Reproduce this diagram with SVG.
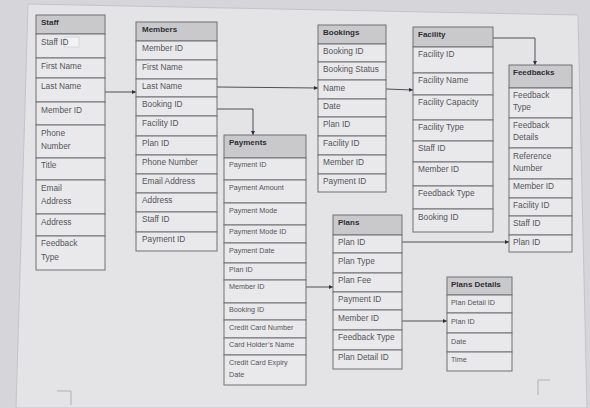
<svg xmlns="http://www.w3.org/2000/svg" width="590" height="408" viewBox="0 0 590 408">
<defs>
<style>
.bg{fill:#d6d6da}
.page{fill:#e4e4e7;stroke:#c4c4c8;stroke-width:1}
.hd{fill:#c9c9cc;stroke:#707075;stroke-width:1}
.rw{fill:#e9e9eb;stroke:#707075;stroke-width:1}
.ht{font-family:"Liberation Sans",Arial,sans-serif;font-size:8px;font-weight:bold;fill:#2e2e32}
.t{font-family:"Liberation Sans",Arial,sans-serif;font-size:8.3px;fill:#55555a}
.ts{font-family:"Liberation Sans",Arial,sans-serif;font-size:7.2px;fill:#55555a}
.cn{fill:none;stroke:#505055;stroke-width:1;marker-end:url(#ah)}
.mk{fill:none;stroke:#b0b0b4;stroke-width:1}
</style>
<marker id="ah" viewBox="0 0 6 6" refX="6" refY="3" markerWidth="4" markerHeight="4" markerUnits="userSpaceOnUse" orient="auto">
<path d="M0,0 L6,3 L0,6 Z" fill="#303035"/>
</marker>
</defs>
<rect class="bg" x="0" y="0" width="590" height="408"/>
<polygon class="page" points="28,4 578,15 587,408 16,408"/>
<path class="mk" d="M57,391 H71 V405"/>
<path class="mk" d="M550,380 H538 V395"/>

<g id="connectors">
<path class="cn" d="M105,92 L136,92"/>
<path class="cn" d="M217,87 L318,88"/>
<path class="cn" d="M217,109 L253,109 L253,135"/>
<path class="cn" d="M386,89 L413,90"/>
<path class="cn" d="M493,38 L535,38 L535,65"/>
<path class="cn" d="M402,242 L509,242"/>
<path class="cn" d="M306,287 L333,287"/>
<path class="cn" d="M402,321 L447,321"/>
</g>

<g id="staff">
<rect class="hd" x="36" y="15" width="69" height="19"/>
<text class="ht" x="41" y="25">Staff</text>
<rect class="rw" x="36" y="34" width="69" height="24"/>
<rect x="65" y="37" width="14" height="10" fill="#f2f2f3" stroke="#c8c8cc" stroke-width="0.6"/>
<text class="t" x="41" y="45">Staff ID</text>
<rect class="rw" x="36" y="58" width="69" height="20"/>
<text class="t" x="41" y="69">First Name</text>
<rect class="rw" x="36" y="78" width="69" height="24"/>
<text class="t" x="41" y="89">Last Name</text>
<rect class="rw" x="36" y="102" width="69" height="23"/>
<text class="t" x="41" y="113">Member ID</text>
<rect class="rw" x="36" y="125" width="69" height="33"/>
<text class="t" x="41" y="136">Phone</text>
<text class="t" x="41" y="149">Number</text>
<rect class="rw" x="36" y="158" width="69" height="22"/>
<text class="t" x="41" y="168">Title</text>
<rect class="rw" x="36" y="180" width="69" height="34"/>
<text class="t" x="41" y="191">Email</text>
<text class="t" x="41" y="204">Address</text>
<rect class="rw" x="36" y="214" width="69" height="22"/>
<text class="t" x="41" y="225">Address</text>
<rect class="rw" x="36" y="236" width="69" height="34"/>
<text class="t" x="41" y="246">Feedback</text>
<text class="t" x="41" y="260">Type</text>
</g>

<g id="members">
<rect class="hd" x="136" y="22" width="81" height="19"/>
<text class="ht" x="142" y="32">Members</text>
<rect class="rw" x="136" y="41" width="81" height="19"/>
<text class="t" x="142" y="51">Member ID</text>
<rect class="rw" x="136" y="60" width="81" height="19"/>
<text class="t" x="142" y="70">First Name</text>
<rect class="rw" x="136" y="79" width="81" height="18"/>
<text class="t" x="142" y="89">Last Name</text>
<rect class="rw" x="136" y="97" width="81" height="19"/>
<text class="t" x="142" y="107">Booking ID</text>
<rect class="rw" x="136" y="116" width="81" height="20"/>
<text class="t" x="142" y="126">Facility ID</text>
<rect class="rw" x="136" y="136" width="81" height="19"/>
<text class="t" x="142" y="146">Plan ID</text>
<rect class="rw" x="136" y="155" width="81" height="19"/>
<text class="t" x="142" y="165">Phone Number</text>
<rect class="rw" x="136" y="174" width="81" height="19"/>
<text class="t" x="142" y="184">Email Address</text>
<rect class="rw" x="136" y="193" width="81" height="19"/>
<text class="t" x="142" y="203">Address</text>
<rect class="rw" x="136" y="212" width="81" height="20"/>
<text class="t" x="142" y="222">Staff ID</text>
<rect class="rw" x="136" y="232" width="81" height="19"/>
<text class="t" x="142" y="242">Payment ID</text>
</g>

<g id="bookings">
<rect class="hd" x="318" y="25" width="68" height="19"/>
<text class="ht" x="323" y="35">Bookings</text>
<rect class="rw" x="318" y="44" width="68" height="18"/>
<text class="t" x="323" y="54">Booking ID</text>
<rect class="rw" x="318" y="62" width="68" height="18"/>
<text class="t" x="323" y="72">Booking Status</text>
<rect class="rw" x="318" y="80" width="68" height="19"/>
<text class="t" x="323" y="91">Name</text>
<rect class="rw" x="318" y="99" width="68" height="18"/>
<text class="t" x="323" y="109">Date</text>
<rect class="rw" x="318" y="117" width="68" height="19"/>
<text class="t" x="323" y="127">Plan ID</text>
<rect class="rw" x="318" y="136" width="68" height="19"/>
<text class="t" x="323" y="146">Facility ID</text>
<rect class="rw" x="318" y="155" width="68" height="19"/>
<text class="t" x="323" y="165">Member ID</text>
<rect class="rw" x="318" y="174" width="68" height="18"/>
<text class="t" x="323" y="184">Payment ID</text>
</g>

<g id="facility">
<rect class="hd" x="413" y="27" width="80" height="20"/>
<text class="ht" x="418" y="37">Facility</text>
<rect class="rw" x="413" y="47" width="80" height="26"/>
<text class="t" x="418" y="57">Facility ID</text>
<rect class="rw" x="413" y="73" width="80" height="22"/>
<text class="t" x="418" y="83">Facility Name</text>
<rect class="rw" x="413" y="95" width="80" height="25"/>
<text class="t" x="418" y="105">Facility Capacity</text>
<rect class="rw" x="413" y="120" width="80" height="21"/>
<text class="t" x="418" y="130">Facility Type</text>
<rect class="rw" x="413" y="141" width="80" height="21"/>
<text class="t" x="418" y="151">Staff ID</text>
<rect class="rw" x="413" y="162" width="80" height="24"/>
<text class="t" x="418" y="172">Member ID</text>
<rect class="rw" x="413" y="186" width="80" height="23"/>
<text class="t" x="418" y="196">Feedback Type</text>
<rect class="rw" x="413" y="209" width="80" height="23"/>
<text class="t" x="418" y="220">Booking ID</text>
</g>

<g id="feedbacks">
<rect class="hd" x="509" y="65" width="63" height="23"/>
<text class="ht" x="513" y="75">Feedbacks</text>
<rect class="rw" x="509" y="88" width="63" height="30"/>
<text class="t" x="513" y="98">Feedback</text>
<text class="t" x="513" y="110">Type</text>
<rect class="rw" x="509" y="118" width="63" height="30"/>
<text class="t" x="513" y="128">Feedback</text>
<text class="t" x="513" y="140">Details</text>
<rect class="rw" x="509" y="148" width="63" height="31"/>
<text class="t" x="513" y="159">Reference</text>
<text class="t" x="513" y="171">Number</text>
<rect class="rw" x="509" y="179" width="63" height="19"/>
<text class="t" x="513" y="189">Member ID</text>
<rect class="rw" x="509" y="198" width="63" height="18"/>
<text class="t" x="513" y="208">Facility ID</text>
<rect class="rw" x="509" y="216" width="63" height="19"/>
<text class="t" x="513" y="226">Staff ID</text>
<rect class="rw" x="509" y="235" width="63" height="17"/>
<text class="t" x="513" y="245">Plan ID</text>
</g>

<g id="payments">
<rect class="hd" x="224" y="135" width="82" height="23"/>
<text class="ht" x="229" y="145">Payments</text>
<rect class="rw" x="224" y="158" width="82" height="22"/>
<text class="ts" x="229" y="167">Payment ID</text>
<rect class="rw" x="224" y="180" width="82" height="23"/>
<text class="ts" x="229" y="190">Payment Amount</text>
<rect class="rw" x="224" y="203" width="82" height="22"/>
<text class="ts" x="229" y="213">Payment Mode</text>
<rect class="rw" x="224" y="225" width="82" height="18"/>
<text class="ts" x="229" y="234">Payment Mode ID</text>
<rect class="rw" x="224" y="243" width="82" height="20"/>
<text class="ts" x="229" y="253">Payment Date</text>
<rect class="rw" x="224" y="263" width="82" height="17"/>
<text class="ts" x="229" y="272">Plan ID</text>
<rect class="rw" x="224" y="280" width="82" height="23"/>
<text class="ts" x="229" y="289">Member ID</text>
<rect class="rw" x="224" y="303" width="82" height="17"/>
<text class="ts" x="229" y="312">Booking ID</text>
<rect class="rw" x="224" y="320" width="82" height="18"/>
<text class="ts" x="229" y="330">Credit Card Number</text>
<rect class="rw" x="224" y="338" width="82" height="17"/>
<text class="ts" x="229" y="347">Card Holder’s Name</text>
<rect class="rw" x="224" y="355" width="82" height="30"/>
<text class="ts" x="229" y="365">Credit Card Expiry</text>
<text class="ts" x="229" y="377">Date</text>
</g>

<g id="plans">
<rect class="hd" x="333" y="215" width="69" height="20"/>
<text class="ht" x="338" y="225">Plans</text>
<rect class="rw" x="333" y="235" width="69" height="18"/>
<text class="t" x="338" y="245">Plan ID</text>
<rect class="rw" x="333" y="253" width="69" height="20"/>
<text class="t" x="338" y="264">Plan Type</text>
<rect class="rw" x="333" y="273" width="69" height="19"/>
<text class="t" x="338" y="283">Plan Fee</text>
<rect class="rw" x="333" y="292" width="69" height="18"/>
<text class="t" x="338" y="302">Payment ID</text>
<rect class="rw" x="333" y="310" width="69" height="20"/>
<text class="t" x="338" y="321">Member ID</text>
<rect class="rw" x="333" y="330" width="69" height="20"/>
<text class="t" x="338" y="340">Feedback Type</text>
<rect class="rw" x="333" y="350" width="69" height="19"/>
<text class="t" x="338" y="360">Plan Detail ID</text>
</g>

<g id="plans-details">
<rect class="hd" x="447" y="277" width="65" height="18"/>
<text class="ht" x="451" y="287">Plans Details</text>
<rect class="rw" x="447" y="295" width="65" height="18"/>
<text class="ts" x="451" y="305">Plan Detail ID</text>
<rect class="rw" x="447" y="313" width="65" height="20"/>
<text class="ts" x="451" y="324">Plan ID</text>
<rect class="rw" x="447" y="333" width="65" height="19"/>
<text class="ts" x="451" y="344">Date</text>
<rect class="rw" x="447" y="352" width="65" height="19"/>
<text class="ts" x="451" y="362">Time</text>
</g>
</svg>
